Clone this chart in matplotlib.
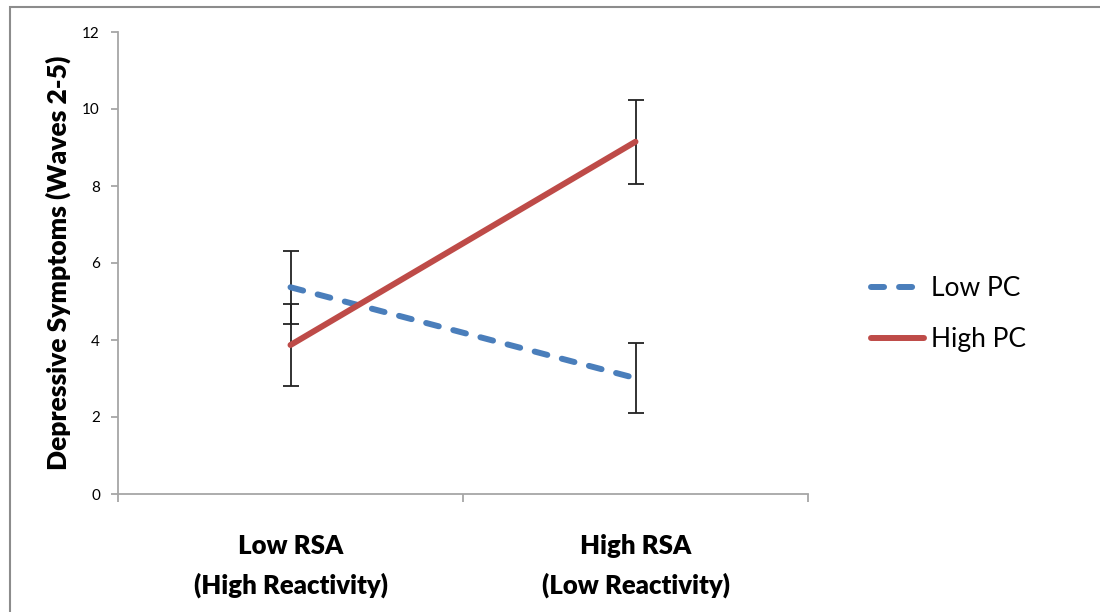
import matplotlib
matplotlib.use('Agg')
import matplotlib.pyplot as plt
from matplotlib.patches import Rectangle

plt.rcParams['font.family'] = ['Lato', 'DejaVu Sans']
plt.rcParams['lines.scale_dashes'] = False

groups = ['Low RSA\n(High Reactivity)', 'High RSA\n(Low Reactivity)']
low_pc = [5.37, 3.01]
low_pc_err = [0.95, 0.9]
high_pc = [3.87, 9.15]
high_pc_err = [1.07, 1.09]

blue = '#4a7ebb'
red = '#be4b48'
grey = '#a6a6a6'

fig = plt.figure(figsize=(11, 6.12), dpi=100)
fig.patches.append(Rectangle((10/1100, -0.1), 1.2, 1.1 - 7/612, transform=fig.transFigure,
                             fill=False, edgecolor='#8c8c8c', lw=1.5, zorder=0))
ax = fig.add_axes([118/1100, 1-494/612, 690/1100, 462/612])

x = [0, 1]
ax.errorbar(x, low_pc, yerr=low_pc_err, fmt='none', ecolor='#222222', elinewidth=1.3,
            capsize=5.5, capthick=1.3, zorder=2)
ax.errorbar(x, high_pc, yerr=high_pc_err, fmt='none', ecolor='#222222', elinewidth=1.3,
            capsize=5.5, capthick=1.3, zorder=2)
ax.plot(x, low_pc, color=blue, lw=4.3, dashes=(9.4, 10.8), dash_capstyle='round',
        solid_capstyle='round', label='Low PC', zorder=3)
ax.plot(x, high_pc, color=red, lw=4.3, solid_capstyle='round', label='High PC', zorder=3)

ax.set_xlim(-0.5, 1.5)
ax.set_ylim(0, 12)
ax.set_yticks(range(0, 13, 2))
ax.set_xticks([-0.5, 0.5, 1.5])
ax.set_xticklabels([])
ax.set_xticks(x, minor=True)
ax.set_xticklabels(groups, minor=True, fontsize=18.5, fontweight='heavy', linespacing=1.65)
ax.tick_params(axis='x', which='minor', length=0, pad=29)
ax.tick_params(axis='x', which='major', direction='out', length=6, color=grey, width=1.3)
ax.tick_params(axis='y', direction='out', length=5, color=grey, width=1.3, labelsize=11, pad=8)
for s in ['top', 'right']:
    ax.spines[s].set_visible(False)
for s in ['left', 'bottom']:
    ax.spines[s].set_color(grey)
    ax.spines[s].set_linewidth(1.3)

ax.set_ylabel('Depressive Symptoms (Waves 2-5)', fontsize=19, fontweight='heavy', labelpad=8)

leg = fig.legend(loc='center left', bbox_to_anchor=(847/1100, 1-314/612), frameon=False,
                 fontsize=19, handlelength=2.0, handletextpad=0.3, labelspacing=1.0)

fig.savefig('out.png', dpi=100)
